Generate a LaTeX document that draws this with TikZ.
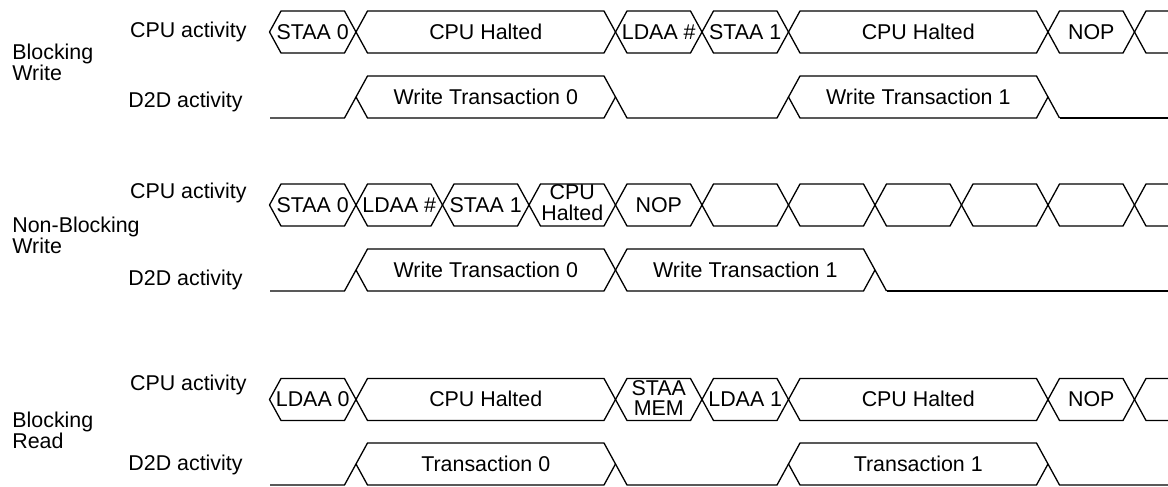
\documentclass[tikz,border=0pt]{standalone}
\usepackage{fontspec}
\setmainfont{Liberation Sans}
\usepackage{tikz}
\usetikzlibrary{positioning}

\tikzstyle{wave}    = [line width=0.65pt, line join=miter, black]
\tikzstyle{busText} = [inner sep=0pt, text height=0.72em, text depth=0pt,
                       font=\fontsize{10.7pt}{11pt}\selectfont]
\tikzstyle{busText2}= [inner sep=0pt, align=center,
                       font=\fontsize{10.7pt}{10.4pt}\selectfont]
\tikzstyle{rowLabel}= [inner sep=0pt, anchor=base east,
                       font=\fontsize{10.7pt}{11pt}\selectfont]
\tikzstyle{grpLabel}= [inner sep=0pt, anchor=base west, align=left,
                       font=\fontsize{10.7pt}{10.2pt}\selectfont]

% x position of the k-th transition
\newcommand{\kx}[1]{(269.5+86.5*(#1))}
% hexagon from transition #3 to #4 on a row at height #2
\newcommand{\hexbox}[5]{%
  \draw[wave] ({\kx{#3}},#2) -- ({\kx{#3}+11.5},#2-21) -- ({\kx{#4}-11.5},#2-21)
    -- ({\kx{#4}},#2) -- ({\kx{#4}-11.5},#2+21) -- ({\kx{#3}+11.5},#2+21) -- cycle;
  \node[busText] (#1) at ({269.5+43.25*(#3+#4)},#2) {#5};}
% bus left open to the right edge
\newcommand{\openbox}[2]{%
  \draw[wave] (1168,#1-21) -- ({\kx{#2}+11.5},#1-21) -- ({\kx{#2}},#1)
    -- ({\kx{#2}+11.5},#1+21) -- (1168,#1+21);}
% idle (low) stretch between two transitions
\newcommand{\lowseg}[3]{%
  \draw[wave] ({\kx{#2}},#1) -- ({\kx{#2}+11.5},#1+21) -- ({\kx{#3}-11.5},#1+21)
    -- ({\kx{#3}},#1);}

\begin{document}
\begin{tikzpicture}[x=0.5pt, y=-0.5pt]
  \useasboundingbox (0,0) rectangle (1168,487);

  %% Blocking Write
  \node[grpLabel] (bw) at (12,80) {Blocking\\Write};
  \node[rowLabel] (bwCpu) at (247,38) {CPU activity};
  \node[rowLabel] (bwD2d) at (243,107) {D2D activity};

  \hexbox{bwStaa0}{32}{0}{1}{STAA 0}
  \hexbox{bwHalt0}{32}{1}{4}{CPU Halted}
  \hexbox{bwLdaa}{32}{4}{5}{LDAA \#}
  \hexbox{bwStaa1}{32}{5}{6}{STAA 1}
  \hexbox{bwHalt1}{32}{6}{9}{CPU Halted}
  \hexbox{bwNop}{32}{9}{10}{NOP}
  \openbox{32}{10}

  \draw[wave] (270,118) -- ({\kx{1}-11.5},118) -- ({\kx{1}},97);
  \hexbox{bwWr0}{97}{1}{4}{Write Transaction 0}
  \lowseg{97}{4}{6}
  \hexbox{bwWr1}{97}{6}{9}{Write Transaction 1}
  \draw[wave] ({\kx{9}},97) -- ({\kx{9}+11.5},118);
  \draw[wave, line width=1pt] ({\kx{9}+11.5},118) -- (1168,118);

  %% Non-Blocking Write
  \node[grpLabel] (nbw) at (12,253) {Non-Blocking\\Write};
  \node[rowLabel] (nbwCpu) at (247,198) {CPU activity};
  \node[rowLabel] (nbwD2d) at (243,285) {D2D activity};

  \hexbox{nbStaa0}{205}{0}{1}{STAA 0}
  \hexbox{nbLdaa}{205}{1}{2}{LDAA \#}
  \hexbox{nbStaa1}{205}{2}{3}{STAA 1}
  \hexbox{nbHalt}{205}{3}{4}{}
  \node[busText2] (nbHaltTxt) at ({269.5+43.25*7},203) {CPU\\Halted};
  \hexbox{nbNop}{205}{4}{5}{NOP}
  \foreach \k in {5,...,9}
    \hexbox{nbIdle\k}{205}{\k}{\k+1}{};
  \openbox{205}{10}

  \draw[wave] (270,291) -- ({\kx{1}-11.5},291) -- ({\kx{1}},270);
  \hexbox{nbWr0}{270}{1}{4}{Write Transaction 0}
  \hexbox{nbWr1}{270}{4}{7}{Write Transaction 1}
  \draw[wave] ({\kx{7}},270) -- ({\kx{7}+11.5},291);
  \draw[wave, line width=1pt] ({\kx{7}+11.5},291) -- (1168,291);

  %% Blocking Read
  \node[grpLabel] (br) at (12,448) {Blocking\\Read};
  \node[rowLabel] (brCpu) at (247,390) {CPU activity};
  \node[rowLabel] (brD2d) at (243,470) {D2D activity};

  \hexbox{brLdaa0}{399.5}{0}{1}{LDAA 0}
  \hexbox{brHalt0}{399.5}{1}{4}{CPU Halted}
  \hexbox{brStaa}{399.5}{4}{5}{}
  \node[busText2] (brStaaTxt) at ({269.5+43.25*9},398) {STAA\\MEM};
  \hexbox{brLdaa1}{399.5}{5}{6}{LDAA 1}
  \hexbox{brHalt1}{399.5}{6}{9}{CPU Halted}
  \hexbox{brNop}{399.5}{9}{10}{NOP}
  \openbox{399.5}{10}

  \draw[wave] (270,485) -- ({\kx{1}-11.5},485) -- ({\kx{1}},464);
  \hexbox{brTr0}{464}{1}{4}{Transaction 0}
  \lowseg{464}{4}{6}
  \hexbox{brTr1}{464}{6}{9}{Transaction 1}
  \draw[wave] ({\kx{9}},464) -- ({\kx{9}+11.5},485) -- (1168,485);

\end{tikzpicture}
\end{document}
